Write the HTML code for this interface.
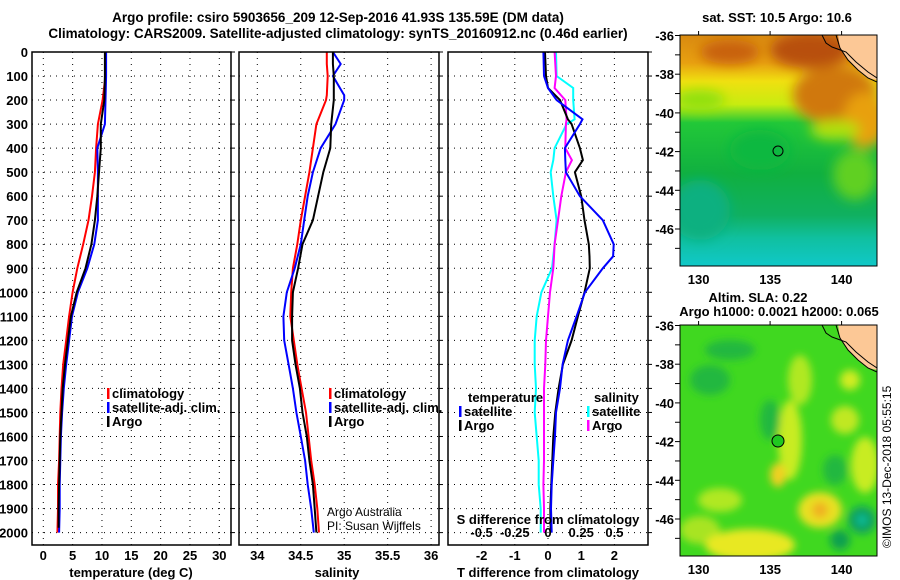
<!DOCTYPE html>
<html><head><meta charset="utf-8">
<style>
body{margin:0;background:#fff;}
svg{display:block;font-family:"Liberation Sans",sans-serif;}
.b{font-weight:bold;font-size:13px;}
.n{font-size:12px;}
</style></head>
<body>
<svg id="c" width="900" height="580" viewBox="0 0 900 580">
<defs>
<filter id="bl" x="-20%" y="-20%" width="140%" height="140%"><feGaussianBlur stdDeviation="6"/></filter>
<filter id="bl2" x="-20%" y="-20%" width="140%" height="140%"><feGaussianBlur stdDeviation="4"/></filter>
<clipPath id="m1"><rect x="680" y="35" width="197" height="231"/></clipPath>
<clipPath id="m2"><rect x="680" y="325" width="197" height="231"/></clipPath>
<linearGradient id="sst" x1="0" y1="0" x2="0" y2="1">
<stop offset="0" stop-color="#d98a10"/><stop offset="0.12" stop-color="#e8a010"/>
<stop offset="0.2" stop-color="#f0e010"/><stop offset="0.3" stop-color="#c8ec10"/>
<stop offset="0.38" stop-color="#22c838"/><stop offset="0.6" stop-color="#10b040"/>
<stop offset="0.78" stop-color="#10b060"/><stop offset="0.88" stop-color="#10c0a0"/>
<stop offset="1" stop-color="#10c8c8"/></linearGradient>
</defs>
<text x="338" y="22" text-anchor="middle" font-size="13.5" font-weight="bold">Argo profile: csiro 5903656_209 12-Sep-2016 41.93S 135.59E (DM data)</text>
<text x="338" y="38" text-anchor="middle" font-size="13.5" font-weight="bold">Climatology: CARS2009. Satellite-adjusted climatology: synTS_20160912.nc (0.46d earlier)</text>
<g id="charts"></g>
<g>
<text x="777" y="22" text-anchor="middle" class="b">sat. SST: 10.5 Argo: 10.6</text>
<g clip-path="url(#m1)">
<rect x="680" y="35" width="197" height="231" fill="url(#sst)"/>
<g filter="url(#bl)">
<ellipse cx="810" cy="50" rx="40" ry="18" fill="#b85010"/>
<ellipse cx="730" cy="52" rx="30" ry="12" fill="#c86010"/>
<ellipse cx="835" cy="95" rx="42" ry="30" fill="#d07810"/>
<ellipse cx="865" cy="120" rx="22" ry="28" fill="#e8a010"/>
<ellipse cx="835" cy="130" rx="25" ry="10" fill="#b0e010"/>
<ellipse cx="855" cy="175" rx="22" ry="25" fill="#60d020"/>
<ellipse cx="700" cy="210" rx="30" ry="30" fill="#10b080"/>
<ellipse cx="760" cy="150" rx="30" ry="20" fill="#10b840"/>
<ellipse cx="700" cy="100" rx="25" ry="10" fill="#90e010"/>
</g>
<polygon points="838,35 877,35 877,80 868,78 858,70 848,60 840,48" fill="#fcc896"/>
<polyline points="822,35 826,43 832,47 846,52 856,62 868,72 877,78" fill="none" stroke="#000" stroke-width="1"/>
<polyline points="836,35 840,48 848,60 858,70 868,78 877,82" fill="none" stroke="#000" stroke-width="1"/>
<circle cx="778" cy="151" r="5" fill="none" stroke="#000" stroke-width="1"/>
</g>
<rect x="680" y="35" width="197" height="231" fill="none" stroke="#000"/>
</g>
<g>
<text x="758" y="302" text-anchor="middle" class="b">Altim. SLA: 0.22</text>
<text x="779" y="316" text-anchor="middle" class="b">Argo h1000: 0.0021 h2000: 0.065</text>
<g clip-path="url(#m2)">
<rect x="680" y="325" width="197" height="231" fill="#40d820"/>
<g filter="url(#bl2)">
<ellipse cx="790" cy="440" rx="12" ry="40" fill="#c8ec20"/>
<ellipse cx="778" cy="475" rx="8" ry="12" fill="#f0d020"/>
<ellipse cx="800" cy="380" rx="12" ry="25" fill="#b0e820"/>
<ellipse cx="720" cy="500" rx="22" ry="12" fill="#b0e820"/>
<ellipse cx="700" cy="530" rx="20" ry="14" fill="#a8e420"/>
<ellipse cx="820" cy="510" rx="22" ry="18" fill="#e8e020"/>
<ellipse cx="820" cy="510" rx="8" ry="8" fill="#f0b020"/>
<ellipse cx="750" cy="545" rx="45" ry="16" fill="#e8e820"/>
<ellipse cx="865" cy="465" rx="14" ry="28" fill="#c8ec20"/>
<ellipse cx="845" cy="420" rx="14" ry="14" fill="#c0e820"/>
<ellipse cx="862" cy="520" rx="14" ry="14" fill="#10a060"/>
<ellipse cx="862" cy="520" rx="5" ry="5" fill="#10c0a0"/>
<ellipse cx="840" cy="540" rx="10" ry="10" fill="#10a050"/>
<ellipse cx="710" cy="380" rx="20" ry="15" fill="#20b840"/>
<ellipse cx="770" cy="420" rx="10" ry="20" fill="#20b840"/>
<ellipse cx="835" cy="470" rx="12" ry="15" fill="#20b840"/>
<ellipse cx="730" cy="350" rx="25" ry="10" fill="#20b840"/>
<ellipse cx="850" cy="380" rx="10" ry="10" fill="#d0ec20"/>
</g>
<polygon points="838,325 877,325 877,370 868,368 858,360 848,350 840,338" fill="#fcc896"/>
<polyline points="822,325 826,333 832,337 846,342 856,352 868,362 877,368" fill="none" stroke="#000" stroke-width="1"/>
<polyline points="836,325 840,338 848,350 858,360 868,368 877,372" fill="none" stroke="#000" stroke-width="1"/>
<circle cx="778" cy="441" r="6" fill="#20c820" stroke="#000" stroke-width="1"/>
</g>
<rect x="680" y="325" width="197" height="231" fill="none" stroke="#000"/>
</g>
<text transform="translate(891,548) rotate(-90)" font-size="12">©IMOS 13-Dec-2018 05:55:15</text>
</svg>
<script>
// ---- data ----
const tDepth = [0,100,200,300,400,500,600,700,800,900,1000,1100,1200,1300,1400,1500,1600,1700,1800,1900,2000];
const tClim  = [10.6,10.6,10.1,9.3,9.0,8.8,8.3,7.7,6.8,5.8,5.0,4.4,3.9,3.4,3.1,2.9,2.8,2.7,2.5,2.5,2.4];
const tSat   = [10.7,10.7,10.6,10.5,9.2,9.3,9.3,9.3,8.7,7.5,5.9,4.9,4.4,3.9,3.5,3.2,3.0,2.9,2.8,2.8,2.7];
const tArgo  = [10.5,10.5,10.4,9.8,9.8,9.5,9.2,8.8,8.2,7.2,5.7,4.7,4.2,3.7,3.3,3.1,2.9,2.8,2.7,2.6,2.6];
const sDepth = [0,50,100,180,200,300,400,500,600,700,800,900,1000,1100,1200,1300,1400,1500,1600,1700,1800,1900,2000];
const sClim  = [34.80,34.80,34.81,34.80,34.79,34.68,34.64,34.60,34.55,34.50,34.46,34.41,34.39,34.38,34.42,34.46,34.51,34.56,34.59,34.62,34.66,34.69,34.71];
const sSat   = [34.87,34.96,34.87,35.00,35.00,34.90,34.73,34.64,34.58,34.54,34.50,34.43,34.34,34.30,34.31,34.36,34.41,34.45,34.50,34.55,34.58,34.62,34.65];
const sArgo  = [34.87,34.87,34.88,34.88,34.88,34.85,34.84,34.76,34.70,34.64,34.52,34.47,34.41,34.40,34.40,34.44,34.49,34.52,34.57,34.60,34.64,34.66,34.68];
const dDepth = [0,100,150,200,280,300,400,450,500,600,700,800,850,900,1000,1100,1200,1300,1400,1500,1600,1700,1800,1900,2000];
const dTSat  = [-0.14,-0.12,0.0,0.26,1.04,0.96,0.51,0.52,0.54,0.96,1.65,1.98,1.96,1.65,1.11,0.86,0.60,0.44,0.36,0.24,0.21,0.16,0.11,0.09,0.11];
const dTArgo = [-0.09,-0.06,0.0,0.36,0.60,0.71,0.96,1.05,0.81,1.00,1.10,1.23,1.25,1.26,1.10,0.90,0.71,0.45,0.32,0.22,0.16,0.13,0.10,0.07,0.08];
const dSSat  = [0.06,0.065,0.19,0.19,0.20,0.14,0.05,0.04,0.02,0.04,0.065,0.05,0.04,0.03,-0.05,-0.085,-0.10,-0.10,-0.09,-0.10,-0.085,-0.07,-0.07,-0.055,-0.055];
const dSArgo = [0.05,0.06,0.05,0.13,0.14,0.135,0.13,0.18,0.135,0.10,0.075,0.05,0.045,0.04,0.015,0.0,-0.015,-0.02,-0.03,-0.03,-0.03,-0.03,-0.035,-0.03,-0.03];
const depthTicks = [0,100,200,300,400,500,600,700,800,900,1000,1100,1200,1300,1400,1500,1600,1700,1800,1900,2000];
const tTicks = [0,5,10,15,20,25,30];
const sTicks = [34,34.5,35,35.5,36];
const dtTicks = [-2,-1,0,1,2];
const dsTicks = [-0.5,-0.25,0,0.25,0.5];
const dsTickLabels = ['-0.5','-0.25','0','0.25','0.5'];
const latTicks = [-36,-38,-40,-42,-44,-46];
const lonTicks = [130,135,140];

const NS='http://www.w3.org/2000/svg';
const root=document.getElementById('charts');
const svgRoot=document.getElementById('c');
function mk(tag,attrs,parent){const e=document.createElementNS(NS,tag);for(const k in attrs)e.setAttribute(k,attrs[k]);(parent||root).appendChild(e);return e;}
const yD = d => 52 + d*0.2403;
const xT = v => 43.3 + v*5.867;
const xS = v => 257.3 + (v-34)*86.9;
const xDT = v => 548 + v*33.2;
const xDS = v => 548 + v*132.8;
const TOP=52,BOT=545;

function panel(x0,x1,name,vTicks,xf){
  const g=mk('g',{});
  
  
  depthTicks.forEach(d=>{ if(d>0) mk('line',{x1:x0,x2:x1,y1:yD(d),y2:yD(d),stroke:'#000','stroke-width':1,'stroke-dasharray':'1,5'},g);
    mk('line',{x1:x1,x2:x1+4,y1:yD(d),y2:yD(d),stroke:'#000'},g);});
  vTicks.forEach(v=>{ mk('line',{x1:xf(v),x2:xf(v),y1:TOP,y2:BOT,stroke:'#000','stroke-dasharray':'1,5'},g);});
  return g;
}
function frame(x0,x1,g){mk('rect',{x:x0,y:TOP,width:x1-x0,height:BOT-TOP,fill:'none',stroke:'#000','stroke-width':1.5},g);}
function line(g,xs,ds,xf,color,name){
  const pts=xs.map((v,i)=>xf(v).toFixed(1)+','+yD(ds[i]).toFixed(1)).join(' ');
  const p=mk('polyline',{points:pts,fill:'none',stroke:color,'stroke-width':2},g);
  
  
}
function txt(g,x,y,s,anchor,cls,name){const t=mk('text',{x:x,y:y,'text-anchor':anchor||'start','class':cls||'b'},g);t.textContent=s;
  
  return t;}
function legend(g,x,y,color,label,name){
  mk('rect',{x:x,y:y-10,width:2.5,height:11,fill:color},g);
  txt(g,x+5,y,label,'start','b',name);
}

depthTicks.forEach(d=>{txt(root,28,yD(d)+5,String(d),'end','b','depth-tick-label');});

const g1=panel(32,231,'temperature-panel',tTicks,xT);
line(g1,tClim,tDepth,xT,'#ff0000','temp-climatology-line');
line(g1,tSat,tDepth,xT,'#0000ff','temp-satellite-line');
line(g1,tArgo,tDepth.slice(0,20).concat([1980]),xT,'#000000','temp-argo-line');
frame(32,231,g1);
tTicks.forEach(v=>txt(g1,xT(v),560,String(v),'middle','b','temp-tick-label'));
txt(g1,131,577,'temperature (deg C)','middle','b','temp-axis-title');
legend(g1,107,398,'#ff0000','climatology','legend-climatology');
legend(g1,107,412,'#0000ff','satellite-adj. clim.','legend-satellite');
legend(g1,107,426,'#000000','Argo','legend-argo');

const g2=panel(239,439,'salinity-panel',sTicks,xS);
line(g2,sClim,sDepth,xS,'#ff0000','sal-climatology-line');
line(g2,sSat,sDepth,xS,'#0000ff','sal-satellite-line');
line(g2,sArgo,sDepth,xS,'#000000','sal-argo-line');
frame(239,439,g2);
sTicks.forEach(v=>txt(g2,xS(v),560,String(v),'middle','b','sal-tick-label'));
txt(g2,337,577,'salinity','middle','b','sal-axis-title');
legend(g2,329,398,'#ff0000','climatology','legend-climatology-2');
legend(g2,329,412,'#0000ff','satellite-adj. clim.','legend-satellite-2');
legend(g2,329,426,'#000000','Argo','legend-argo-2');
txt(g2,327,516,'Argo Australia','start','n','credit-argo-australia');
txt(g2,327,530,'PI: Susan Wijffels','start','n','credit-pi');

const g3=panel(448,648,'difference-panel',dtTicks,xDT);
line(g3,dSSat,dDepth,xDS,'#00ffff','sdiff-satellite-line');
line(g3,dSArgo,dDepth,xDS,'#ff00ff','sdiff-argo-line');
line(g3,dTArgo,dDepth,xDT,'#000000','tdiff-argo-line');
line(g3,dTSat,dDepth,xDT,'#0000ff','tdiff-satellite-line');
frame(448,648,g3);
dtTicks.forEach(v=>txt(g3,xDT(v),560,String(v),'middle','b','tdiff-tick-label'));
dsTicks.forEach((v,i)=>txt(g3,xDS(v),537,dsTickLabels[i],'middle','b','sdiff-tick-label'));
txt(g3,548,524,'S difference from climatology','middle','b','sdiff-axis-title');
txt(g3,548,577,'T difference from climatology','middle','b','tdiff-axis-title');
txt(g3,468,402,'temperature','start','b','legend-temperature-header');
legend(g3,459,416,'#0000ff','satellite','legend-t-satellite');
legend(g3,459,430,'#000000','Argo','legend-t-argo');
txt(g3,594,402,'salinity','start','b','legend-salinity-header');
legend(g3,587,416,'#00ffff','satellite','legend-s-satellite');
legend(g3,587,430,'#ff00ff','Argo','legend-s-argo');

const yLat=(lat,off)=>off+35.5+(-36-lat)*19.35;
const xLon=lon=>680+(lon-128.7)*14.3;
[0,290].forEach((off,k)=>{
  const g=mk('g',{},svgRoot);
  
  
  for(let lat=-36;lat>=-47;lat--){mk('line',{x1:675,x2:680,y1:yLat(lat,off),y2:yLat(lat,off),stroke:'#000'},g);}
  latTicks.forEach(l=>txt(g,674,yLat(l,off)+5,String(l),'end','b','lat-tick-label'));
  lonTicks.forEach(l=>{mk('line',{x1:xLon(l),x2:xLon(l),y1:off+31,y2:off+35,stroke:'#000'},g);
    txt(g,xLon(l),off+284,String(l),'middle','b','lon-tick-label');});
});
</script>
</body></html>
